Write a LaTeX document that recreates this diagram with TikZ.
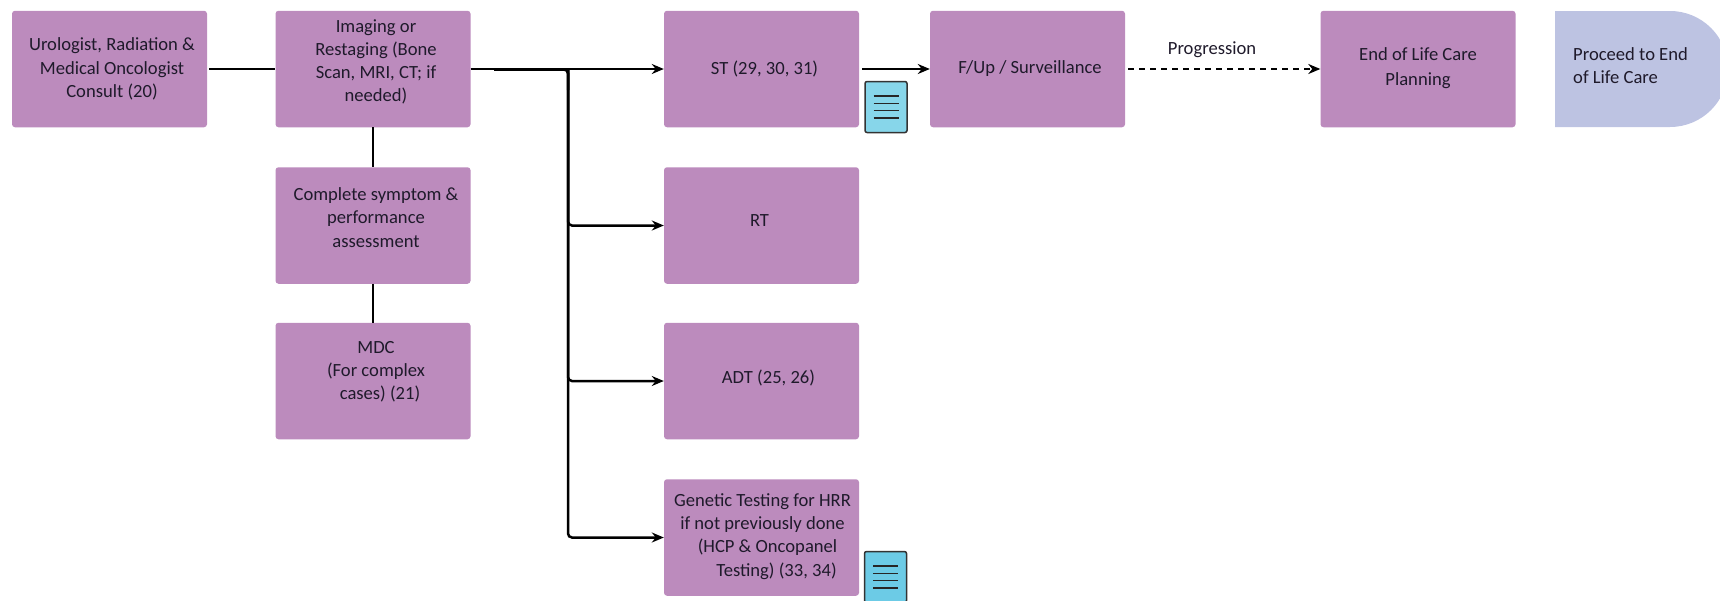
\documentclass[tikz,border=0pt]{standalone}
\usepackage{fontspec}
\setmainfont{Carlito}
\usetikzlibrary{arrows.meta}
\definecolor{boxpurple}{HTML}{BC8BBD}
\definecolor{endblue}{HTML}{BDC3E2}
\definecolor{doccyan}{HTML}{87D6EA}
\definecolor{docbright}{HTML}{6CCBE6}
\definecolor{inkdark}{HTML}{1F1A2B}
\tikzset{
  box/.style={fill=boxpurple,rounded corners=3pt,minimum width=195pt,minimum height=116.5pt,inner sep=0pt,align=center,text=inkdark,font=\fontsize{18.6}{23.2}\selectfont},
  flow/.style={line width=2.5pt,black},
  arrowflow/.style={flow,-{Stealth[length=12pt,width=10pt]}},
  docicon/.style={draw=black!80,line width=1.5pt,rounded corners=2pt,minimum width=42pt,minimum height=51pt,inner sep=0pt},
}
\begin{document}
\begin{tikzpicture}[x=1pt,y=-1pt]
        \useasboundingbox (0,0) rectangle (1720,600);
        \fill[endblue] (1555,11) -- (1670,11) arc (-90:90:58) -- (1555,127) -- cycle;
        \node[box](consult) at (109.5,69) {\hspace*{5pt}Urologist, Radiation \&\\\hspace*{5pt}Medical Oncologist\\\hspace*{5pt}Consult (20)};
        \node[box](imaging) at (373,69) {\hspace*{6pt}Imaging or\\\hspace*{6pt}Restaging (Bone\\\hspace*{6pt}Scan, MRI, CT; if\\\hspace*{6pt}needed)\vspace{14pt}};
        \node[box](symptom) at (373,225.5) {\hspace*{6pt}Complete symptom \&\\\hspace*{6pt}performance\\\hspace*{6pt}assessment\vspace{16pt}};
        \node[box](mdc) at (373,381) {\hspace*{6pt}MDC\\\hspace*{6pt}(For complex\\\hspace*{14pt}cases) (21)\vspace{19pt}};
        \node[box](st) at (761.5,69) {\hspace*{6pt}\raisebox{2pt}{ST (29, 30, 31)}};
        \node[box](rt) at (761.5,225.5) {\hspace*{-4pt}\raisebox{9pt}{RT}};
        \node[box](adt) at (761.5,381) {\hspace*{14pt}\raisebox{9pt}{ADT (25, 26)}};
        \node[box](genetic) at (761.5,537.5) {\hspace*{2pt}Genetic Testing for HRR\\\hspace*{2pt}if not previously done\\\hspace*{12pt}(HCP \& Oncopanel\\\hspace*{30pt}Testing) (33, 34)\vspace{2pt}};
        \node[box](followup) at (1027.5,69) {\hspace*{5pt}\raisebox{4pt}{F/Up / Surveillance}};
        \node[box](planning) at (1418,69) {End of Life Care\\[2pt]Planning\vspace{1pt}};
        \node[align=left,inner sep=0pt,text=inkdark,font=\fontsize{18.6}{23.2}\selectfont,anchor=west](proceed) at (1573,66) {Proceed to End\\of Life Care};
        \node[inner sep=0pt,text=inkdark,font=\fontsize{18.6}{23.2}\selectfont](progression) at (1212,49.5) {Progression};
        \node[docicon,fill=doccyan](stdoc) at (886,107) {};
        \node[docicon,fill=docbright](geneticdoc) at (885.5,577) {};
        \foreach \dy in {-11,-3.7,3.7,11} {
                \draw[line width=1.2pt,black!85] ([xshift=-12.5pt,yshift=\dy pt]stdoc.center)--([xshift=12.5pt,yshift=\dy pt]stdoc.center);
                \draw[line width=1.2pt,black!85] ([xshift=-12.5pt,yshift=\dy pt]geneticdoc.center)--([xshift=12.5pt,yshift=\dy pt]geneticdoc.center);
        }
        \coordinate(split) at (494,69.5);
        \coordinate(trunk) at (568,69.5);
        \draw[flow]([xshift=2pt]consult.east)--(imaging.west);
        \draw[flow](imaging)--(symptom);
        \draw[flow](symptom)--(mdc);
        \draw[arrowflow](imaging.east)--(st.west);
        \draw[flow,rounded corners=4pt](split)--(trunk)--(568,90);
        \draw[arrowflow,rounded corners=4pt](trunk)|-(rt.west);
        \draw[arrowflow,rounded corners=4pt](trunk)|-(adt.west);
        \draw[arrowflow,rounded corners=4pt](trunk)|-(genetic.west);
        \draw[arrowflow]([xshift=3pt]st.east)--(followup.west);
        \draw[arrowflow,dashed,dash pattern=on 6pt off 5pt]([xshift=3pt]followup.east)--(planning.west);
\end{tikzpicture}
\end{document}
